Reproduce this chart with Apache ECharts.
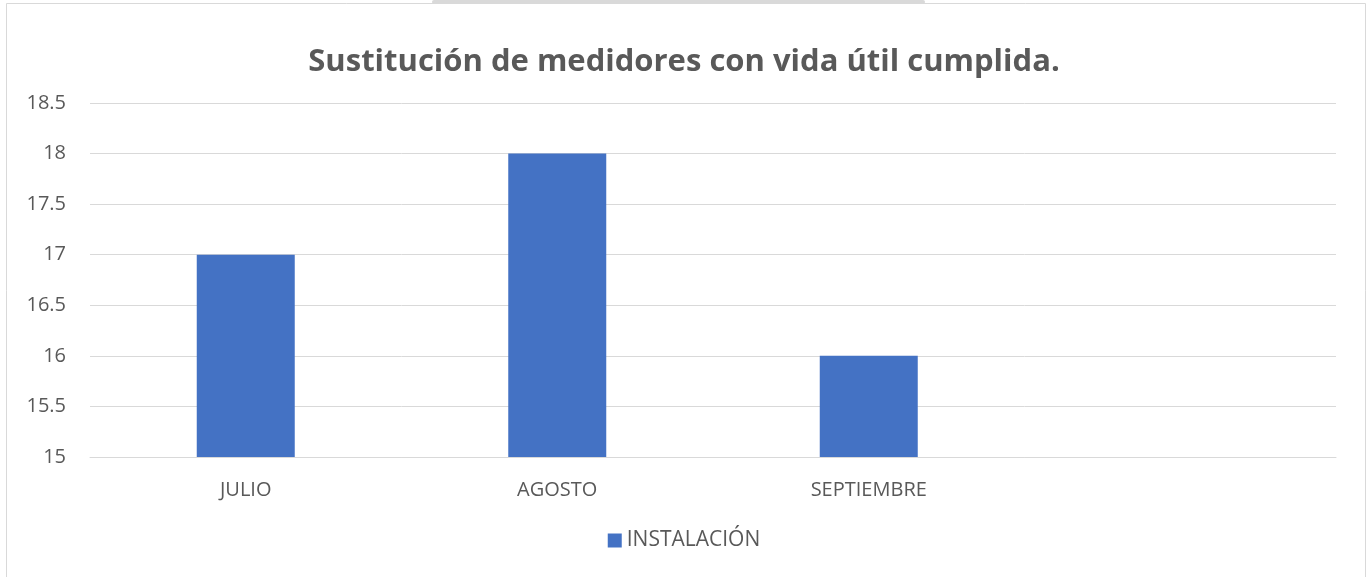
<!DOCTYPE html>
<html>
<head>
<meta charset="utf-8">
<script src="https://cdn.jsdelivr.net/npm/echarts@6/dist/echarts.min.js"></script>
<style>
  html, body { margin: 0; padding: 0; background: #fff; }
  #main { width: 1368px; height: 577px; }
</style>
</head>
<body>
<div id="main"></div>
<script>
// datos del gráfico
var meses = ['JULIO', 'AGOSTO', 'SEPTIEMBRE', ''];
var instalacion = [17, 18, 16, null];
var titulo = 'Sustitución de medidores con vida útil cumplida.';
var nombreSerie = 'INSTALACIÓN';

var myChart = echarts.init(document.getElementById('main'));

var option = {
  animation: false,
  backgroundColor: '#fff',
  graphic: [
    {
      type: 'rect',
      shape: { x: 6.5, y: 3.5, width: 1359, height: 590 },
      style: { fill: 'none', stroke: '#d9d9d9', lineWidth: 1 },
      silent: true
    },
    {
      type: 'rect',
      shape: { x: 432, y: 0, width: 493, height: 4, r: 2 },
      style: { fill: '#d9d9d9' },
      silent: true
    }
  ],
  title: {
    text: titulo,
    left: 'center',
    top: 42,
    textStyle: {
      fontFamily: 'Open Sans',
      fontWeight: 'bold',
      fontSize: 31,
      color: '#595959'
    }
  },
  legend: {
    data: [nombreSerie],
    bottom: 21,
    left: 'center',
    icon: 'rect',
    itemWidth: 14,
    itemHeight: 14,
    itemGap: 6,
    textStyle: { fontFamily: 'Open Sans', fontSize: 21, color: '#595959' }
  },
  grid: {
    left: 90,
    right: 32,
    top: 103,
    bottom: 120,
    containLabel: false
  },
  xAxis: {
    type: 'category',
    data: meses,
    axisLine: { lineStyle: { color: '#d9d9d9' } },
    axisTick: { show: false },
    axisLabel: {
      fontFamily: 'Open Sans',
      fontSize: 20,
      color: '#595959',
      margin: 23
    }
  },
  yAxis: {
    type: 'value',
    min: 15,
    max: 18.5,
    interval: 0.5,
    axisLine: { show: false },
    axisTick: { show: false },
    splitLine: { lineStyle: { color: '#d9d9d9', width: 1 } },
    axisLabel: {
      fontFamily: 'Open Sans',
      fontSize: 20,
      color: '#595959',
      margin: 24
    }
  },
  series: [
    {
      name: nombreSerie,
      type: 'bar',
      data: instalacion,
      barWidth: 98,
      itemStyle: { color: '#4472c4' }
    }
  ]
};

myChart.setOption(option);
</script>
</body>
</html>
